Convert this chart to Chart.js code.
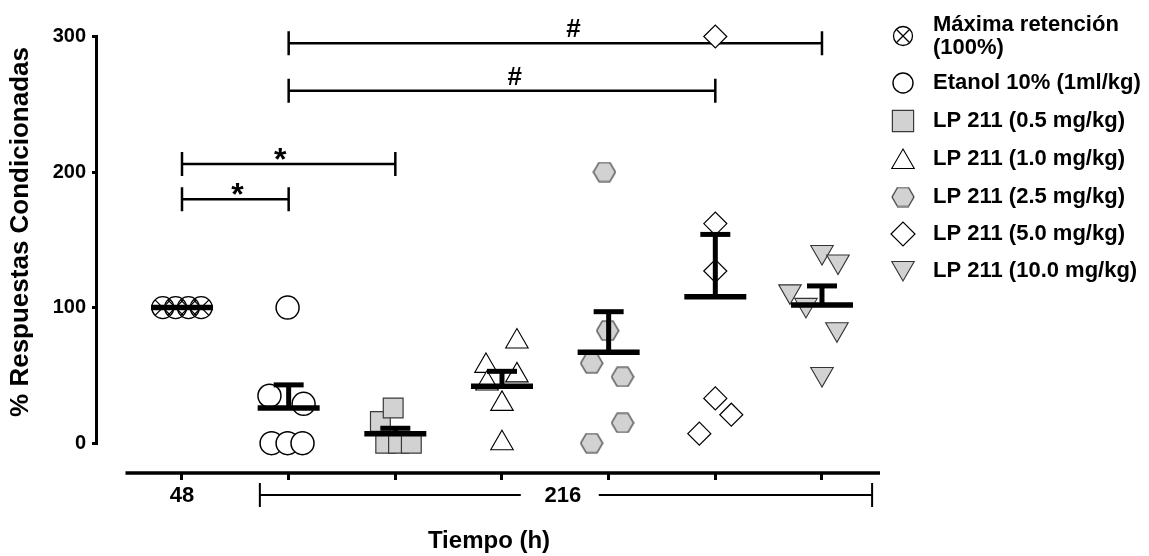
<!DOCTYPE html>
<html><head><meta charset="utf-8">
<script src="https://cdn.jsdelivr.net/npm/chart.js@4.4.1/dist/chart.umd.min.js"></script>
<style>html,body{margin:0;padding:0;background:#fff}#wrap{width:1149px;height:556px;position:relative}</style>
</head><body><div id="wrap"><canvas id="c"></canvas></div>
<script>
// ---------------- DATA ----------------
const groupLabels = ['Máxima retención (100%)','Etanol 10% (1ml/kg)','LP 211 (0.5 mg/kg)','LP 211 (1.0 mg/kg)','LP 211 (2.5 mg/kg)','LP 211 (5.0 mg/kg)','LP 211 (10.0 mg/kg)'];
const legendLines = [['Máxima retención','(100%)'],['Etanol 10% (1ml/kg)'],['LP 211 (0.5 mg/kg)'],['LP 211 (1.0 mg/kg)'],['LP 211 (2.5 mg/kg)'],['LP 211 (5.0 mg/kg)'],['LP 211 (10.0 mg/kg)']];
const timeTickLabels = ['48','216'];
const yTickValues = [0,100,200,300];

// individual values (% respuestas condicionadas) and horizontal scatter offset (group units)
const maxRetValues  = [100,100,100,100];
const maxRetJitter  = [-0.18,-0.06,0.06,0.18];
const etanolValues  = [100,35,29,0,0,0];
const etanolJitter  = [-0.01,-0.18,0.14,-0.16,-0.01,0.13];
const lp05Values    = [16,26,0,0,0];
const lp05Jitter    = [-0.14,-0.02,-0.09,0.03,0.15];
const lp10Values    = [75,57,50,44,29,0];
const lp10Jitter    = [0.14,-0.15,0.14,-0.14,0,0];
const lp25Values    = [200,83,59,49,15,0];
const lp25Jitter    = [-0.04,-0.01,-0.16,0.13,0.13,-0.16];
const lp50Values    = [300,162,127,33,21,7];
const lp50Jitter    = [0,0,0,0,0.15,-0.15];
const lp100Values   = [141,134,112,102,84,51];
const lp100Jitter   = [0,0.15,-0.30,-0.15,0.14,0];

// mean and SEM per group
const groupMeans = [100,26,7,42,67,108,102];
const groupSEM   = [0,17,4,11,30,46,14];

// significance brackets (group indices, y value, label)
const bracketFrom   = [0,0,1,1];
const bracketTo     = [1,2,5,6];
const bracketY      = [180,206,260,295];
const bracketText   = ['*','*','#','#'];
const bracketTextAt = [0.52,0.92,3.12,3.67];

// time axis groups: 48 h at group 0, 216 h spanning groups 1..6
const time216Span = [0.73,6.47];
const time216At = 3.57;
const xTickValues = [0,1,2,3,4,5,6,time216At];

// ---------------- STYLE ----------------
const FONT = '"Liberation Sans", Arial, Helvetica, sans-serif';
const GRAY = '#d2d2d2';
const X0 = -0.7875, X1 = 6.544, YMIN = -22, YMAX = 300;

function makeHex(w,h,fill,stroke,lw){
  const c=document.createElement('canvas'); c.width=w+2; c.height=h+2;
  const g=c.getContext('2d'); const cx=c.width/2, cy=c.height/2;
  g.beginPath(); g.moveTo(cx-w/2,cy); g.lineTo(cx-w/4,cy-h/2); g.lineTo(cx+w/4,cy-h/2);
  g.lineTo(cx+w/2,cy); g.lineTo(cx+w/4,cy+h/2); g.lineTo(cx-w/4,cy+h/2); g.closePath();
  g.fillStyle=fill; g.fill(); g.lineWidth=lw; g.strokeStyle=stroke; g.stroke(); return c;
}
const hexData = makeHex(22,19,GRAY,'#333',1.2);
const hexLegend = makeHex(22,19,GRAY,'#333',1.2);

function pts(vals,jit,g){ return vals.map((v,i)=>({x:g+jit[i], y:v})); }

function pointSet(label,data,style,radius,fill,stroke,bw,rot){
  return {label, data, pointStyle:style, pointRadius:radius, pointHoverRadius:radius,
    pointBackgroundColor:fill, pointBorderColor:stroke, pointBorderWidth:bw,
    pointRotation:rot||0, showLine:false, clip:false, order:2};
}

const datasets = [
  pointSet(groupLabels[0], pts(maxRetValues,maxRetJitter,0),'circle',11,'rgba(0,0,0,0)','#000',1.3),
  pointSet(groupLabels[0]+' x', pts(maxRetValues,maxRetJitter,0),'crossRot',11,'rgba(0,0,0,0)','#000',1.3),
  pointSet(groupLabels[1], pts(etanolValues,etanolJitter,1),'circle',11.5,'#fff','#000',1.5),
  pointSet(groupLabels[2], pts(lp05Values,lp05Jitter,2),'rect',14,GRAY,'#3a3a3a',1.2),
  pointSet(groupLabels[3], pts(lp10Values,lp10Jitter,3),'triangle',13,'#fff','#000',1.1),
  pointSet(groupLabels[4], pts(lp25Values,lp25Jitter,4),hexData,11,GRAY,'#333',1),
  pointSet(groupLabels[5], pts(lp50Values,lp50Jitter,5),'rectRot',11.5,'#fff','#000',1.2),
  pointSet(groupLabels[6], pts(lp100Values,lp100Jitter,6),'triangle',13,GRAY,'#333',1.1,180)
];
// mean bars
datasets.push({label:'mean', data:groupMeans.map((m,i)=>({x:i,y:m})), pointStyle:'line', pointRadius:31,
  pointBorderColor:'#000', pointBackgroundColor:'#000', pointBorderWidth:5.5, showLine:false, clip:false, order:-2});
// SEM caps
datasets.push({label:'sem cap', data:groupMeans.map((m,i)=>({x:i,y:m+groupSEM[i]})).filter((p,i)=>groupSEM[i]>0),
  pointStyle:'line', pointRadius:15, pointBorderColor:'#000', pointBackgroundColor:'#000', pointBorderWidth:5,
  showLine:false, clip:false, order:-2});
// SEM vertical lines
groupMeans.forEach((m,i)=>{
  if(groupSEM[i]>0) datasets.push({label:'sem '+i, data:[{x:i,y:m},{x:i,y:m+groupSEM[i]}], showLine:true,
    borderColor:'#000', borderWidth:5, pointRadius:0, clip:false, order:-1});
});

const decor = {
  id:'decor',
  beforeDatasetsDraw(chart){
    const {ctx, chartArea, scales:{x,y}} = chart;
    ctx.save();
    ctx.strokeStyle='#000'; ctx.lineCap='butt';
    // y axis line (0..300)
    ctx.lineWidth=3;
    ctx.beginPath(); ctx.moveTo(chartArea.left-1.5, y.getPixelForValue(YMAX)-1.5);
    ctx.lineTo(chartArea.left-1.5, y.getPixelForValue(0)+1.5); ctx.stroke();
    // x axis line
    ctx.lineWidth=3.5;
    ctx.beginPath(); ctx.moveTo(x.getPixelForValue(-0.53), chartArea.bottom);
    ctx.lineTo(x.getPixelForValue(X1), chartArea.bottom); ctx.stroke();
    // significance brackets
    ctx.lineWidth=2.5;
    for(let i=0;i<bracketFrom.length;i++){
      const x1=x.getPixelForValue(bracketFrom[i]), x2=x.getPixelForValue(bracketTo[i]), yy=y.getPixelForValue(bracketY[i]);
      ctx.beginPath();
      ctx.moveTo(x1,yy); ctx.lineTo(x2,yy);
      ctx.moveTo(x1,yy-12); ctx.lineTo(x1,yy+12);
      ctx.moveTo(x2,yy-12); ctx.lineTo(x2,yy+12);
      ctx.stroke();
      ctx.fillStyle='#000'; ctx.textAlign='center'; ctx.textBaseline='alphabetic';
      const tx = x.getPixelForValue(bracketTextAt[i]);
      if(bracketText[i]==='*'){ ctx.font='bold 32px '+FONT; ctx.fillText('*', tx, yy+6); }
      else { ctx.font='bold 26px '+FONT; ctx.fillText('#', tx, yy-6); }
    }
    // 216 h bracket below axis
    const by = chartArea.bottom+22;
    const a=x.getPixelForValue(time216Span[0]), b=x.getPixelForValue(time216Span[1]), c=x.getPixelForValue(time216At);
    ctx.lineWidth=2;
    ctx.beginPath();
    ctx.moveTo(a,by); ctx.lineTo(c-42,by);
    ctx.moveTo(c+36,by); ctx.lineTo(b,by);
    ctx.moveTo(a,by-12); ctx.lineTo(a,by+12);
    ctx.moveTo(b,by-12); ctx.lineTo(b,by+12);
    ctx.stroke();
    ctx.restore();
  },
  afterDraw(chart){
    const ctx = chart.ctx;
    ctx.save();
    // y axis title
    ctx.translate(21,232); ctx.rotate(-Math.PI/2);
    ctx.font='bold 26px '+FONT; ctx.fillStyle='#000'; ctx.textAlign='center'; ctx.textBaseline='middle';
    ctx.fillText('% Respuestas Condicionadas',0,0);
    ctx.restore();
    // legend
    const sx=903, tx=933;
    const rows=[36,83,121,159,197,234,271];
    const H = Chart.helpers;
    ctx.save();
    ctx.font='bold 22px '+FONT; ctx.fillStyle='#000'; ctx.textAlign='left'; ctx.textBaseline='middle';
    legendLines.forEach((lines,i)=>{
      const yy=rows[i];
      if(lines.length===1) ctx.fillText(lines[0],tx,yy);
      else { ctx.fillText(lines[0],tx,yy-11); ctx.fillText(lines[1],tx,yy+12); }
    });
    function sym(style,r,fill,stroke,bw,y,rot){
      ctx.save(); ctx.fillStyle=fill; ctx.strokeStyle=stroke; ctx.lineWidth=bw;
      H.drawPoint(ctx,{pointStyle:style,radius:r,rotation:rot||0,borderWidth:bw},sx,y); ctx.restore();
    }
    sym('circle',9.5,'rgba(0,0,0,0)','#000',1.3,rows[0]);
    sym('crossRot',9.5,'rgba(0,0,0,0)','#000',1.3,rows[0]);
    sym('circle',10,'#fff','#000',1.4,rows[1]);
    sym('rect',15,GRAY,'#3a3a3a',1.2,rows[2]);
    sym('triangle',13,'#fff','#000',1.1,rows[3]+3);
    ctx.drawImage(hexLegend, sx-hexLegend.width/2, rows[4]-hexLegend.height/2);
    sym('rectRot',12,'#fff','#000',1.2,rows[5]);
    sym('triangle',13,GRAY,'#333',1.1,rows[6]-3,180);
    ctx.restore();
  }
};

new Chart(document.getElementById('c'), {
  type:'scatter',
  data:{datasets},
  plugins:[decor],
  options:{
    responsive:true, maintainAspectRatio:false, animation:false, events:[],
    layout:{padding:{top:33,right:269,left:0,bottom:0}},
    plugins:{legend:{display:false}, tooltip:{enabled:false}, title:{display:false}},
    scales:{
      x:{type:'linear', min:X0, max:X1,
        afterFit:s=>{s.height=83;},
        afterBuildTicks:s=>{s.ticks=xTickValues.map(v=>({value:v}));},
        ticks:{autoSkip:false, maxRotation:0, minRotation:0, padding:3, color:'#000',
          font:{family:FONT,size:22,weight:'bold'},
          callback:(v)=> v===0 ? timeTickLabels[0] : (v===time216At ? timeTickLabels[1] : '')},
        grid:{display:true, drawOnChartArea:false, drawTicks:true, tickLength:7, lineWidth:3,
          color:(c)=> (c.tick && c.tick.value===time216At) ? 'rgba(0,0,0,0)' : '#000'},
        border:{display:false},
        title:{display:true, text:'Tiempo (h)', color:'#000', font:{family:FONT,size:24,weight:'bold'}, padding:{top:0,bottom:0}}
      },
      y:{type:'linear', min:YMIN, max:YMAX,
        afterFit:s=>{s.width=98;},
        afterBuildTicks:s=>{s.ticks=yTickValues.map(v=>({value:v}));},
        ticks:{padding:6, color:'#000', font:{family:FONT,size:20,weight:'bold'}},
        grid:{display:true, drawOnChartArea:false, drawTicks:true, tickLength:6, lineWidth:3, color:'#000'},
        border:{display:false},
        title:{display:false}
      }
    }
  }
});
</script>
</body></html>
